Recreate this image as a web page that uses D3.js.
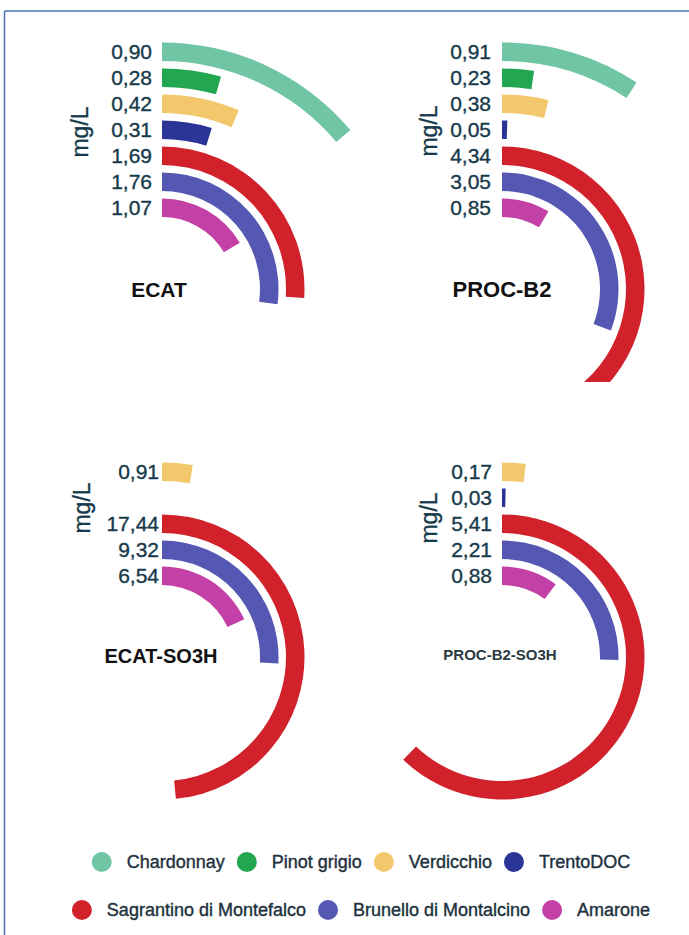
<!DOCTYPE html>
<html>
<head>
<meta charset="utf-8">
<script src="https://cdn.jsdelivr.net/npm/d3@7"></script>
<style>
    body { margin: 0; background: #fff; }
    svg text { font-family: "Liberation Sans", Arial, sans-serif; }
</style>
</head>
<body>
<div id="chart"></div>
<script>
const categories = ["Chardonnay", "Pinot grigio", "Verdicchio", "TrentoDOC",
    "Sagrantino di Montefalco", "Brunello di Montalcino", "Amarone"];
const colors = ["#70c5a5", "#22a64f", "#f3c86c", "#2b3597", "#d1222b", "#5558b2", "#c340a6"];
const panelNames = ["ECAT", "PROC-B2", "ECAT-SO3H", "PROC-B2-SO3H"];
const ecatValues = [0.90, 0.28, 0.42, 0.31, 1.69, 1.76, 1.07];
const procB2Values = [0.91, 0.23, 0.38, 0.05, 4.34, 3.05, 0.85];
const ecatSO3HValues = [null, null, 0.91, null, 17.44, 9.32, 6.54];
const procB2SO3HValues = [null, null, 0.17, 0.03, 5.41, 2.21, 0.88];
// value that would close a full circle in each panel
const fullCircle = [6.5, 9.9, 36, 8.7];
const unitLabel = "mg/L";

const width = 689, height = 935;
const svg = d3.select("#chart").append("svg")
    .attr("width", width)
    .attr("height", height);

// frame (top and left lines only)
svg.append("line").attr("x1", 4.5).attr("y1", 11).attr("x2", width).attr("y2", 11)
    .style("stroke", "#4a70b5").style("stroke-width", 1.5);
svg.append("line").attr("x1", 4.5).attr("y1", 11).attr("x2", 4.5).attr("y2", height)
    .style("stroke", "#4a70b5").style("stroke-width", 1.5);

const panels = [
    { values: ecatValues, cx: 162, cy: 289, gap: 10, unit: [80, 132], tx: 159, ty: 297, tsize: 21, clip: null },
    { values: procB2Values, cx: 502, cy: 289, gap: 11, unit: [429, 131], tx: 502, ty: 297, tsize: 22, clip: 382 },
    { values: ecatSO3HValues, cx: 162, cy: 657, gap: 3, unit: [82, 508], tx: 161, ty: 663, tsize: 20, clip: null },
    { values: procB2SO3HValues, cx: 502, cy: 657, gap: 10, unit: [429, 518], tx: 500, ty: 660, tsize: 15, clip: null }
];

const rScale = d3.scaleBand()
    .domain(categories.slice().reverse())
    .range([72, 246.5])
    .paddingInner(0.288)
    .paddingOuter(0);
const bw = rScale.bandwidth();
const fmt = v => d3.format(".2f")(v).replace(".", ",");

panels.forEach((p, pi) => {
    const angle = d3.scaleLinear().domain([0, fullCircle[pi]]).range([0, 2 * Math.PI]);
    const rows = categories.map((c, i) => ({ cat: c, value: p.values[i], color: colors[i] }))
        .filter(d => d.value != null);

    // the PROC-B2 picture is cut at its bottom edge
    if (p.clip != null) {
        svg.append("clipPath").attr("id", "clip" + pi)
            .append("rect")
            .attr("x", p.cx - 300).attr("y", 0)
            .attr("width", 600).attr("height", p.clip);
    }

    const arc = d3.arc()
        .innerRadius(d => rScale(d.cat))
        .outerRadius(d => rScale(d.cat) + bw)
        .startAngle(0)
        .endAngle(d => angle(d.value));

    svg.append("g")
        .attr("clip-path", p.clip != null ? `url(#clip${pi})` : null)
        .append("g")
        .attr("transform", `translate(${p.cx},${p.cy})`)
        .selectAll("path")
        .data(rows)
        .enter()
        .append("path")
        .attr("d", arc)
        .style("fill", d => d.color);

    const g = svg.append("g")
        .attr("transform", `translate(${p.cx},${p.cy})`);

    // value labels
    g.selectAll(".val")
        .data(rows)
        .enter()
        .append("text")
        .attr("x", -p.gap)
        .attr("y", d => -(rScale(d.cat) + bw / 2))
        .attr("dy", "0.36em")
        .attr("text-anchor", "end")
        .style("font-size", "21px")
        .style("fill", "#173a4b")
        .style("stroke", "#173a4b")
        .style("stroke-width", 0.35)
        .text(d => fmt(d.value));

    // unit label
    svg.append("text")
        .attr("transform", `translate(${p.unit[0]},${p.unit[1]}) rotate(-90)`)
        .attr("text-anchor", "middle")
        .attr("dy", "0.35em")
        .style("font-size", "23px")
        .style("fill", "#173a4b")
        .style("stroke", "#173a4b")
        .style("stroke-width", 0.35)
        .text(unitLabel);

    // panel title
    svg.append("text")
        .attr("x", p.tx)
        .attr("y", p.ty)
        .attr("text-anchor", "middle")
        .style("font-size", p.tsize + "px")
        .style("font-weight", "bold")
        .style("fill", pi === 3 ? "#2a3a42" : "#111")
        .text(panelNames[pi]);
});

// Legend
const legendRows = [[0, 1, 2, 3], [4, 5, 6]];
const legendY = [862, 910];
legendRows.forEach((idx, ri) => {
    const lg = svg.append("g");
    let x = 0;
    idx.forEach(i => {
        const item = lg.append("g").attr("transform", `translate(${x},0)`);
        item.append("circle").attr("cx", 10).attr("cy", 0).attr("r", 10)
            .style("fill", colors[i]);
        const t = item.append("text")
            .attr("x", 35)
            .attr("dy", "0.35em")
            .style("font-size", "18px")
            .style("fill", "#1e3140")
            .style("stroke", "#1e3140")
            .style("stroke-width", 0.4)
            .text(categories[i]);
        x += 35 + t.node().getComputedTextLength() + 12;
    });
    const total = x - 12;
    lg.attr("transform", `translate(${361 - total / 2},${legendY[ri]})`);
});
</script>
</body>
</html>
